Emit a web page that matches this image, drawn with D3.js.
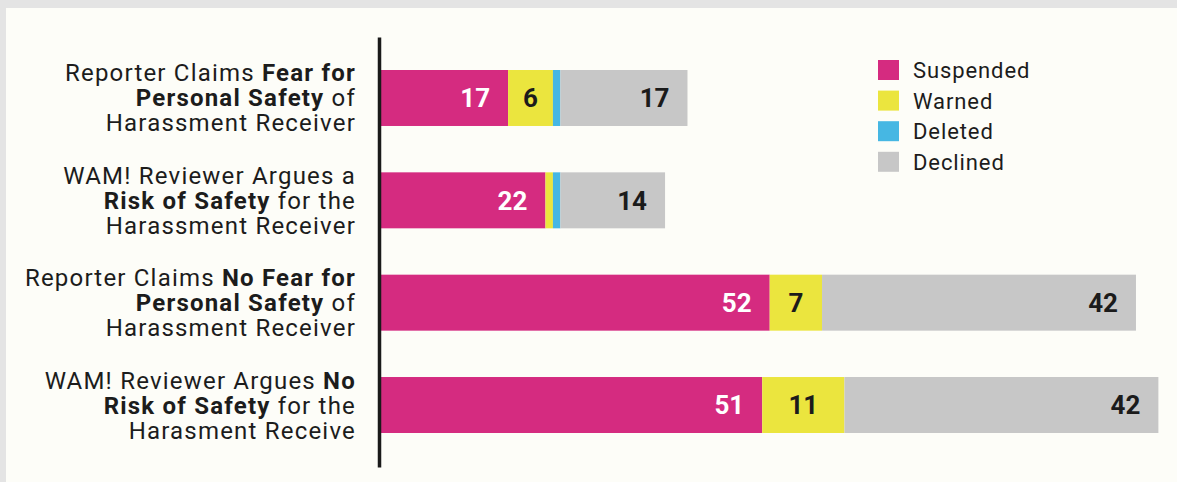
<!DOCTYPE html>
<html>
<head>
<meta charset="utf-8">
<script src="https://cdn.jsdelivr.net/npm/d3@7"></script>
<style>
  html, body { margin: 0; padding: 0; background: #e4e4e4; }
  svg { display: block; }
</style>
</head>
<body>
<svg id="chart" width="1177" height="482"></svg>
<script>
// ---- data ----
const categories = [
  ["Reporter Claims **Fear for**", "**Personal Safety** of", "Harassment Receiver"],
  ["WAM! Reviewer Argues a", "**Risk of Safety** for the", "Harassment Receiver"],
  ["Reporter Claims **No Fear for**", "**Personal Safety** of", "Harassment Receiver"],
  ["WAM! Reviewer Argues **No**", "**Risk of Safety** for the", "Harasment Receive"]
];
const seriesNames = ["Suspended", "Warned", "Deleted", "Declined"];
const suspended = [17, 22, 52, 51];
const warned    = [6, 1, 7, 11];
const deleted   = [1, 1, 0, 0];
const declined  = [17, 14, 42, 42];
const colors = ["#d52b80", "#ebe53e", "#46b7e3", "#c7c7c7"];

const seriesValues = [suspended, warned, deleted, declined];

const svg = d3.select("#chart");
const W = 1177, H = 482;

// panel
svg.append("rect").attr("x", 6).attr("y", 8).attr("width", W - 6).attr("height", H - 8)
  .attr("fill", "#fdfdf8");

const x = d3.scaleLinear().domain([0, 104]).range([381, 381 + 104 * 7.475]);
const y = d3.scaleBand().domain(d3.range(categories.length)).range([70, 433])
  .paddingInner(0.453).paddingOuter(0);

// stack
const rows = categories.map((c, i) => {
  const r = { idx: i };
  seriesNames.forEach((s, j) => r[s] = seriesValues[j][i]);
  return r;
});
const stacked = d3.stack().keys(seriesNames)(rows);

const g = svg.append("g");
stacked.forEach((layer, j) => {
  g.append("g").attr("fill", colors[j])
    .selectAll("rect").data(layer).join("rect")
    .attr("x", d => x(d[0]))
    .attr("y", (d, i) => y(i))
    .attr("width", d => x(d[1]) - x(d[0]))
    .attr("height", y.bandwidth());
});

// value labels
const labelFont = "Roboto, 'DejaVu Sans', sans-serif";
stacked.forEach((layer, j) => {
  layer.forEach((d, i) => {
    const v = d[1] - d[0];
    if (v < 5) return;
    const centered = seriesNames[j] === "Warned";
    g.append("text")
      .attr("x", centered ? (x(d[0]) + x(d[1])) / 2 : x(d[1]) - 18)
      .attr("y", y(i) + y.bandwidth() / 2)
      .attr("dy", "0.36em")
      .attr("text-anchor", centered ? "middle" : "end")
      .attr("font-family", labelFont)
      .attr("font-weight", 700)
      .attr("font-size", 26)
      .attr("fill", j === 0 ? "#ffffff" : "#1b1b1b")
      .text(v);
  });
});

// axis line (category axis)
const yAxis = d3.axisLeft(d3.scaleLinear().range([37, 467])).ticks(0).tickSize(0).tickFormat("");
const ax = svg.append("g").attr("transform", "translate(379,0)").call(yAxis);
ax.select(".domain").attr("stroke", "#1a1a1a").attr("stroke-width", 3.5);

// category labels
categories.forEach((lines, i) => {
  const cy = y(i) + y.bandwidth() / 2;
  const t = svg.append("text")
    .attr("text-anchor", "end")
    .attr("font-family", labelFont)
    .attr("font-size", 24)
    .attr("letter-spacing", 1.2)
    .attr("fill", "#1c1c1c");
  lines.forEach((line, k) => {
    const parts = line.split("**");
    const ln = t.append("tspan").attr("x", 356).attr("y", cy + 8.5 + (k - 1) * 25);
    parts.forEach((p, m) => {
      if (!p) return;
      ln.append("tspan").attr("font-weight", m % 2 === 1 ? 700 : 400).text(p);
    });
  });
});

// legend
const legend = svg.append("g");
seriesNames.forEach((s, j) => {
  const ly = 60 + j * 30.6;
  legend.append("rect").attr("x", 878).attr("y", ly).attr("width", 21).attr("height", 20)
    .attr("fill", colors[j]);
  legend.append("text").attr("x", 913).attr("y", ly + 18)
    .attr("font-family", labelFont).attr("font-size", 22).attr("letter-spacing", 0.9)
    .attr("fill", "#1c1c1c").text(s);
});
</script>
</body>
</html>
